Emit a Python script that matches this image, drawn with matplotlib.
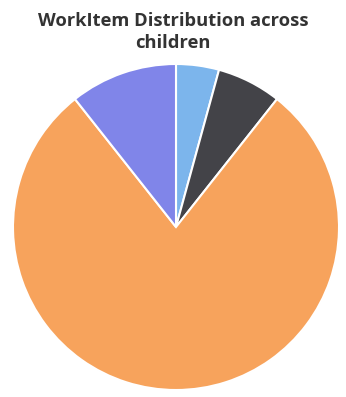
import matplotlib
matplotlib.use("Agg")
import matplotlib.pyplot as plt

categories = ["Child A", "Child B", "Child C", "Child D"]
values = [2, 3, 37, 5]
colors = ["#7cb5ec", "#434348", "#f7a35c", "#8085e9"]
title = "WorkItem Distribution across\nchildren"

fig = plt.figure(figsize=(3.46, 3.97), dpi=100)
fig.patch.set_facecolor("white")
ax = fig.add_axes([13/346, 7/397, 326/346, 326/397])
ax.pie(values, colors=colors, startangle=90, counterclock=False,
       wedgeprops=dict(edgecolor="white", linewidth=1.5))
ax.set_aspect("equal")
ax.set_xlim(-1, 1)
ax.set_ylim(-1, 1)
ax.axis("off")
fig.text(0.5, 1 - 32/397, title, ha="center", va="center", fontsize=13.2,
         fontweight="bold", color="#333333", family=["Open Sans", "DejaVu Sans"],
         linespacing=1.3)
fig.savefig("out.png", dpi=100, facecolor="white")
